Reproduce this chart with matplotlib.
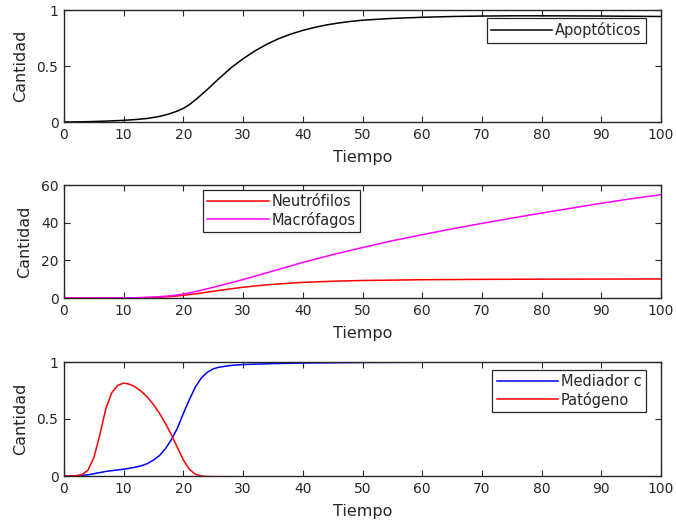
import matplotlib
matplotlib.use("Agg")
import matplotlib.pyplot as plt

# --- data -------------------------------------------------------------
t_apop = [0, 2, 4, 6, 8, 10, 12, 14, 16, 17, 18, 19, 20, 21, 22, 23, 24, 26,
          28, 30, 32, 34, 36, 38, 40, 42, 44, 46, 48, 50, 55, 60, 65, 70, 75,
          80, 85, 90, 95, 100]
apoptoticos = [0, 0.001, 0.003, 0.006, 0.01, 0.015, 0.022, 0.032, 0.05, 0.063,
               0.079, 0.098, 0.122, 0.155, 0.197, 0.243, 0.29, 0.39, 0.485,
               0.565, 0.635, 0.695, 0.745, 0.785, 0.818, 0.845, 0.867, 0.884,
               0.898, 0.909, 0.925, 0.935, 0.942, 0.946, 0.948, 0.948, 0.947,
               0.946, 0.944, 0.942]

t_neut = [0, 5, 10, 12, 14, 16, 18, 20, 22, 24, 26, 28, 30, 32, 34, 36, 38, 40,
          45, 50, 55, 60, 70, 80, 90, 100]
neutrofilos = [0, 0, 0.05, 0.1, 0.2, 0.4, 0.8, 1.4, 2.2, 3.1, 4.0, 4.9, 5.7, 6.4,
               7.0, 7.5, 7.9, 8.3, 8.9, 9.3, 9.5, 9.7, 9.9, 10.0, 10.05, 10.1]

t_macr = [0, 5, 10, 12, 14, 16, 18, 20, 22, 24, 26, 28, 30, 35, 40, 45, 50, 55,
          60, 65, 70, 75, 80, 85, 90, 95, 100]
macrofagos = [0, 0, 0.05, 0.15, 0.35, 0.7, 1.2, 2.1, 3.4, 4.9, 6.5, 8.1, 9.8,
              14.3, 18.9, 23.0, 26.8, 30.4, 33.6, 36.7, 39.6, 42.4, 45.1, 47.7,
              50.3, 52.7, 54.9]

t_med = [0, 2, 4, 5, 6, 7, 8, 9, 10, 11, 12, 13, 14, 15, 16, 17, 18, 19, 20, 21,
         22, 23, 24, 25, 26, 28, 30, 35, 40, 50, 60, 80, 100]
mediador = [0, 0.002, 0.01, 0.02, 0.03, 0.04, 0.047, 0.053, 0.06, 0.068, 0.078,
            0.09, 0.11, 0.14, 0.18, 0.24, 0.32, 0.42, 0.55, 0.67, 0.78, 0.86,
            0.91, 0.94, 0.955, 0.97, 0.978, 0.986, 0.991, 0.996, 0.998, 1.0, 1.0]

t_pat = list(range(0, 28))
patogeno = [0, 0, 0.002, 0.012, 0.05, 0.16, 0.36, 0.59, 0.73, 0.795, 0.815,
            0.805, 0.78, 0.74, 0.69, 0.625, 0.55, 0.46, 0.36, 0.25, 0.14, 0.06,
            0.015, 0.0, -0.005, -0.006, -0.006, -0.006]

x_ticks = [0, 10, 20, 30, 40, 50, 60, 70, 80, 90, 100]
y_ticks_frac = [0, 0.5, 1]
y_ticks_cells = [0, 20, 40, 60]

# --- style ------------------------------------------------------------
W, H = 676, 523
fig = plt.figure(figsize=(W / 100, H / 100), dpi=100)
txt = "#262626"
plt.rcParams["font.family"] = "DejaVu Sans"


def px_axes(left, top, right, bottom):
    return fig.add_axes([left / W, 1 - bottom / H, (right - left) / W, (bottom - top) / H])


def style(ax, yticks, ylim, ylabels=None):
    ax.set_xlim(0, 100)
    ax.set_ylim(*ylim)
    ax.set_xticks(x_ticks)
    ax.set_yticks(yticks)
    if ylabels is not None:
        ax.set_yticklabels(ylabels)
    ax.tick_params(direction="in", length=4, width=0.8, top=True, right=True,
                   labelsize=10, colors=txt, pad=4)
    for s in ax.spines.values():
        s.set_color(txt)
        s.set_linewidth(1.0)
    ax.set_xlabel("Tiempo", fontsize=11.5, color=txt, labelpad=6)
    ax.set_ylabel("Cantidad", fontsize=11.5, color=txt, labelpad=6)


def legend(ax, loc, anchor):
    lg = ax.legend(loc=loc, bbox_to_anchor=anchor, borderaxespad=0,
                   fontsize=10.5, frameon=True, fancybox=False, framealpha=1,
                   handlelength=4.2, handletextpad=0.2, borderpad=0.3,
                   labelspacing=0.15)
    lg.get_frame().set_edgecolor(txt)
    lg.get_frame().set_linewidth(0.9)
    for t in lg.get_texts():
        t.set_color(txt)
    return lg


frac_labels = ["0", "0.5", "1"]
lw = 1.1

# top panel
ax1 = px_axes(64, 10, 661, 122)
ax1.plot(t_apop, apoptoticos, color="black", lw=lw, label="Apoptóticos")
style(ax1, y_ticks_frac, (0, 1), frac_labels)
legend(ax1, "upper right", (0.975, 0.93))

# middle panel
ax2 = px_axes(64, 185, 661, 298)
ax2.plot(t_neut, neutrofilos, color="red", lw=lw, label="Neutrófilos")
ax2.plot(t_macr, macrofagos, color="magenta", lw=lw, label="Macrófagos")
style(ax2, y_ticks_cells, (0, 60))
legend(ax2, "upper left", (0.233, 0.956))

# bottom panel
ax3 = px_axes(64, 362, 661, 476)
ax3.plot(t_med, mediador, color="blue", lw=lw, label="Mediador c")
ax3.plot(t_pat, patogeno, color="red", lw=lw, label="Patógeno")
style(ax3, y_ticks_frac, (0, 1), frac_labels)
legend(ax3, "upper right", (0.975, 0.93))

fig.savefig("out.png", dpi=100)
